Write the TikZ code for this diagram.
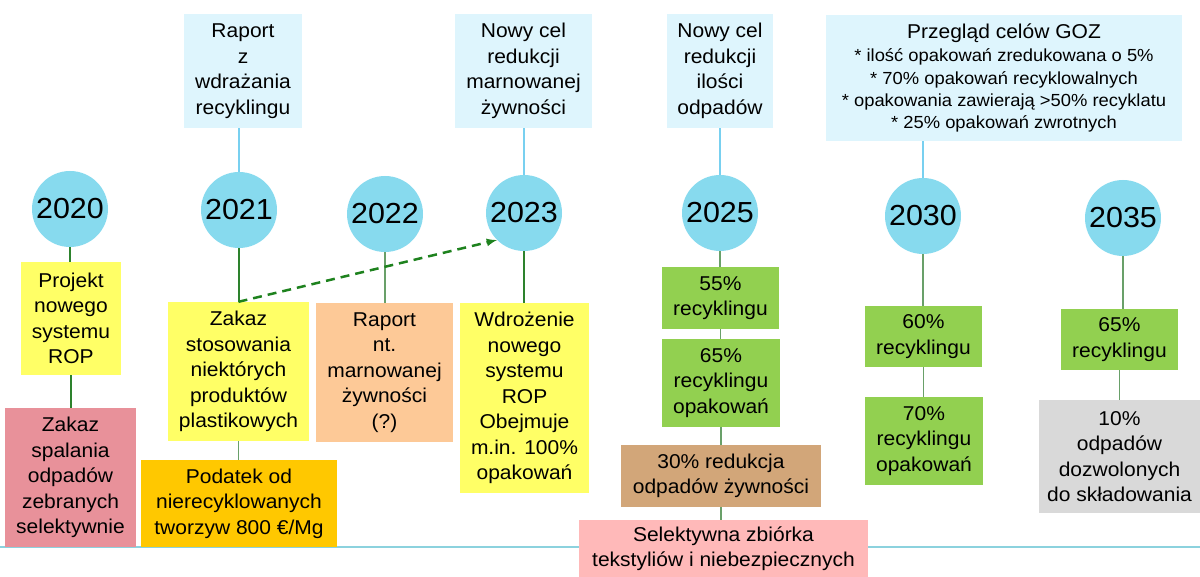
\documentclass[tikz,border=0pt]{standalone}
\usepackage{fontspec}
\setmainfont{Liberation Sans}[FakeStretch=1.05]
\usetikzlibrary{arrows,positioning,calc}

\definecolor{yearblue}{RGB}{135,218,238}
\definecolor{goalblue}{RGB}{222,245,253}
\definecolor{lineblue}{RGB}{120,208,240}
\definecolor{groundblue}{RGB}{140,210,222}
\definecolor{boxyellow}{RGB}{255,255,102}
\definecolor{boxrose}{RGB}{232,145,154}
\definecolor{boxorange}{RGB}{255,200,0}
\definecolor{boxpeach}{RGB}{253,201,151}
\definecolor{boxgreen}{RGB}{146,208,80}
\definecolor{boxtan}{RGB}{210,166,121}
\definecolor{boxpink}{RGB}{255,185,185}
\definecolor{boxgrey}{RGB}{217,217,217}
\definecolor{darkline}{RGB}{45,130,45}
\definecolor{softline}{RGB}{105,160,105}
\definecolor{arrowgreen}{RGB}{30,130,30}

\begin{document}
\begin{tikzpicture}[>=latex,x=1pt,y=-1pt]
	\useasboundingbox (0,0) rectangle (1200,577);
	\tikzset{yearnode/.style = {shape=circle,fill=yearblue,minimum size=76pt,inner sep=0pt,font=\fontsize{29}{34}\selectfont}}
	\tikzset{infobox/.style = {shape=rectangle,inner sep=0pt,align=center,font=\fontsize{20}{25.5}\selectfont}}
	\tikzset{goalbox/.style = {infobox,fill=goalblue}}
	\tikzset{stem/.style = {draw=darkline,line width=1.2pt}}
	\tikzset{softstem/.style = {draw=softline,line width=1.2pt}}
	\tikzset{blueline/.style = {draw=lineblue,line width=1.2pt}}
	\tikzset{groundline/.style = {draw=groundblue,line width=1.2pt}}
	\tikzset{dasharrow/.style = {->,draw=arrowgreen,line width=2.5pt,dash pattern=on 9pt off 6pt}}

	% time axis
	\coordinate (baseL) at (0,547);
	\coordinate (baseR) at (1200,547);
	\draw[groundline] (baseL) -- (baseR);

	% goals
	\node[goalbox,minimum width=118,minimum height=114] (g2021) at (243,71) {Raport\\z\\wdrażania\\recyklingu};
	\node[goalbox,minimum width=137,minimum height=114] (g2023) at (523.5,71) {Nowy cel\\redukcji\\marnowanej\\żywności};
	\node[goalbox,minimum width=106,minimum height=114] (g2025) at (720,71) {Nowy cel\\redukcji\\ilości\\odpadów};
	\node[goalbox,minimum width=356,minimum height=126,font=\fontsize{17.5}{22.3}\selectfont] (g2030) at (1004,78)
		{{\fontsize{20}{24}\selectfont Przegląd celów GOZ}\\[1pt]
		* ilość opakowań zredukowana o 5\%\\
		* 70\% opakowań recyklowalnych\\
		* opakowania zawierają >50\% recyklatu\\
		* 25\% opakowań zwrotnych};

	% years
	\node[yearnode] (y2020) at (70,209) {2020};
	\node[yearnode] (y2021) at (239,210) {2021};
	\node[yearnode] (y2022) at (385,214) {2022};
	\node[yearnode] (y2023) at (524,213) {2023};
	\node[yearnode] (y2025) at (720,213) {2025};
	\node[yearnode] (y2030) at (923,216) {2030};
	\node[yearnode] (y2035) at (1123,218) {2035};

	% measures
	\node[infobox,fill=boxyellow,minimum width=100,minimum height=113] (projekt) at (71,318.5) {Projekt\\nowego\\systemu\\ROP};
	\node[infobox,fill=boxrose,minimum width=131,minimum height=139] (spalanie) at (70.5,477.5) {Zakaz\\spalania\\odpadów\\zebranych\\selektywnie};
	\node[infobox,fill=boxyellow,minimum width=141,minimum height=139] (plastik) at (238.5,371.5) {Zakaz\\stosowania\\niektórych\\produktów\\plastikowych};
	\node[infobox,fill=boxorange,minimum width=196,minimum height=87] (podatek) at (239,503.5) {Podatek od\\nierecyklowanych\\tworzyw 800 €/Mg};
	\node[infobox,fill=boxpeach,minimum width=137,minimum height=139] (raport) at (384.5,372.5) {Raport\\nt.\\marnowanej\\żywności\\(?)};
	\node[infobox,fill=boxyellow,minimum width=129,minimum height=190] (rop) at (524.5,398) {Wdrożenie\\nowego\\systemu\\ROP\\Obejmuje\\m.in. 100\%\\opakowań};
	\node[infobox,fill=boxgreen,minimum width=117,minimum height=62] (r2025a) at (720.5,298) {55\%\\recyklingu};
	\node[infobox,fill=boxgreen,minimum width=118,minimum height=88] (r2025b) at (721,383) {65\%\\recyklingu\\opakowań};
	\node[infobox,fill=boxtan,minimum width=200,minimum height=62] (zywnosc) at (721,476) {30\% redukcja\\odpadów żywności};
	\node[infobox,fill=boxpink,minimum width=289,minimum height=57] (zbiorka) at (723.5,548.5) {Selektywna zbiórka\\tekstyliów i niebezpiecznych};
	\node[infobox,fill=boxgreen,minimum width=117,minimum height=61] (r2030a) at (923.5,336.5) {60\%\\recyklingu};
	\node[infobox,fill=boxgreen,minimum width=118,minimum height=88] (r2030b) at (924,441) {70\%\\recyklingu\\opakowań};
	\node[infobox,fill=boxgreen,minimum width=117,minimum height=61] (r2035) at (1119.5,339.5) {65\%\\recyklingu};
	\node[infobox,fill=boxgrey,minimum width=161,minimum height=113] (skladowanie) at (1119.5,456.5) {10\%\\odpadów\\dozwolonych\\do składowania};

	%edges
	\foreach \a/\b in {g2021/y2021,g2023/y2023,g2025/y2025,g2030/y2030}
		\draw[blueline] (\b) -- (\b |- \a.south);
	\foreach \a/\b in {y2020/projekt,projekt/spalanie,y2021/plastik,y2023/rop}
		\draw[stem] (\a) -- (\a |- \b.north);
	\foreach \a/\b in {plastik/podatek,y2022/raport,y2025/r2025a,r2025a/r2025b,r2025b/zywnosc,zywnosc/zbiorka,y2030/r2030a,r2030a/r2030b,y2035/r2035,r2035/skladowanie}
		\draw[softstem] (\a) -- (\a |- \b.north);
	\draw[dasharrow] (plastik.north) -- (y2023.south west);

\end{tikzpicture}
\end{document}
